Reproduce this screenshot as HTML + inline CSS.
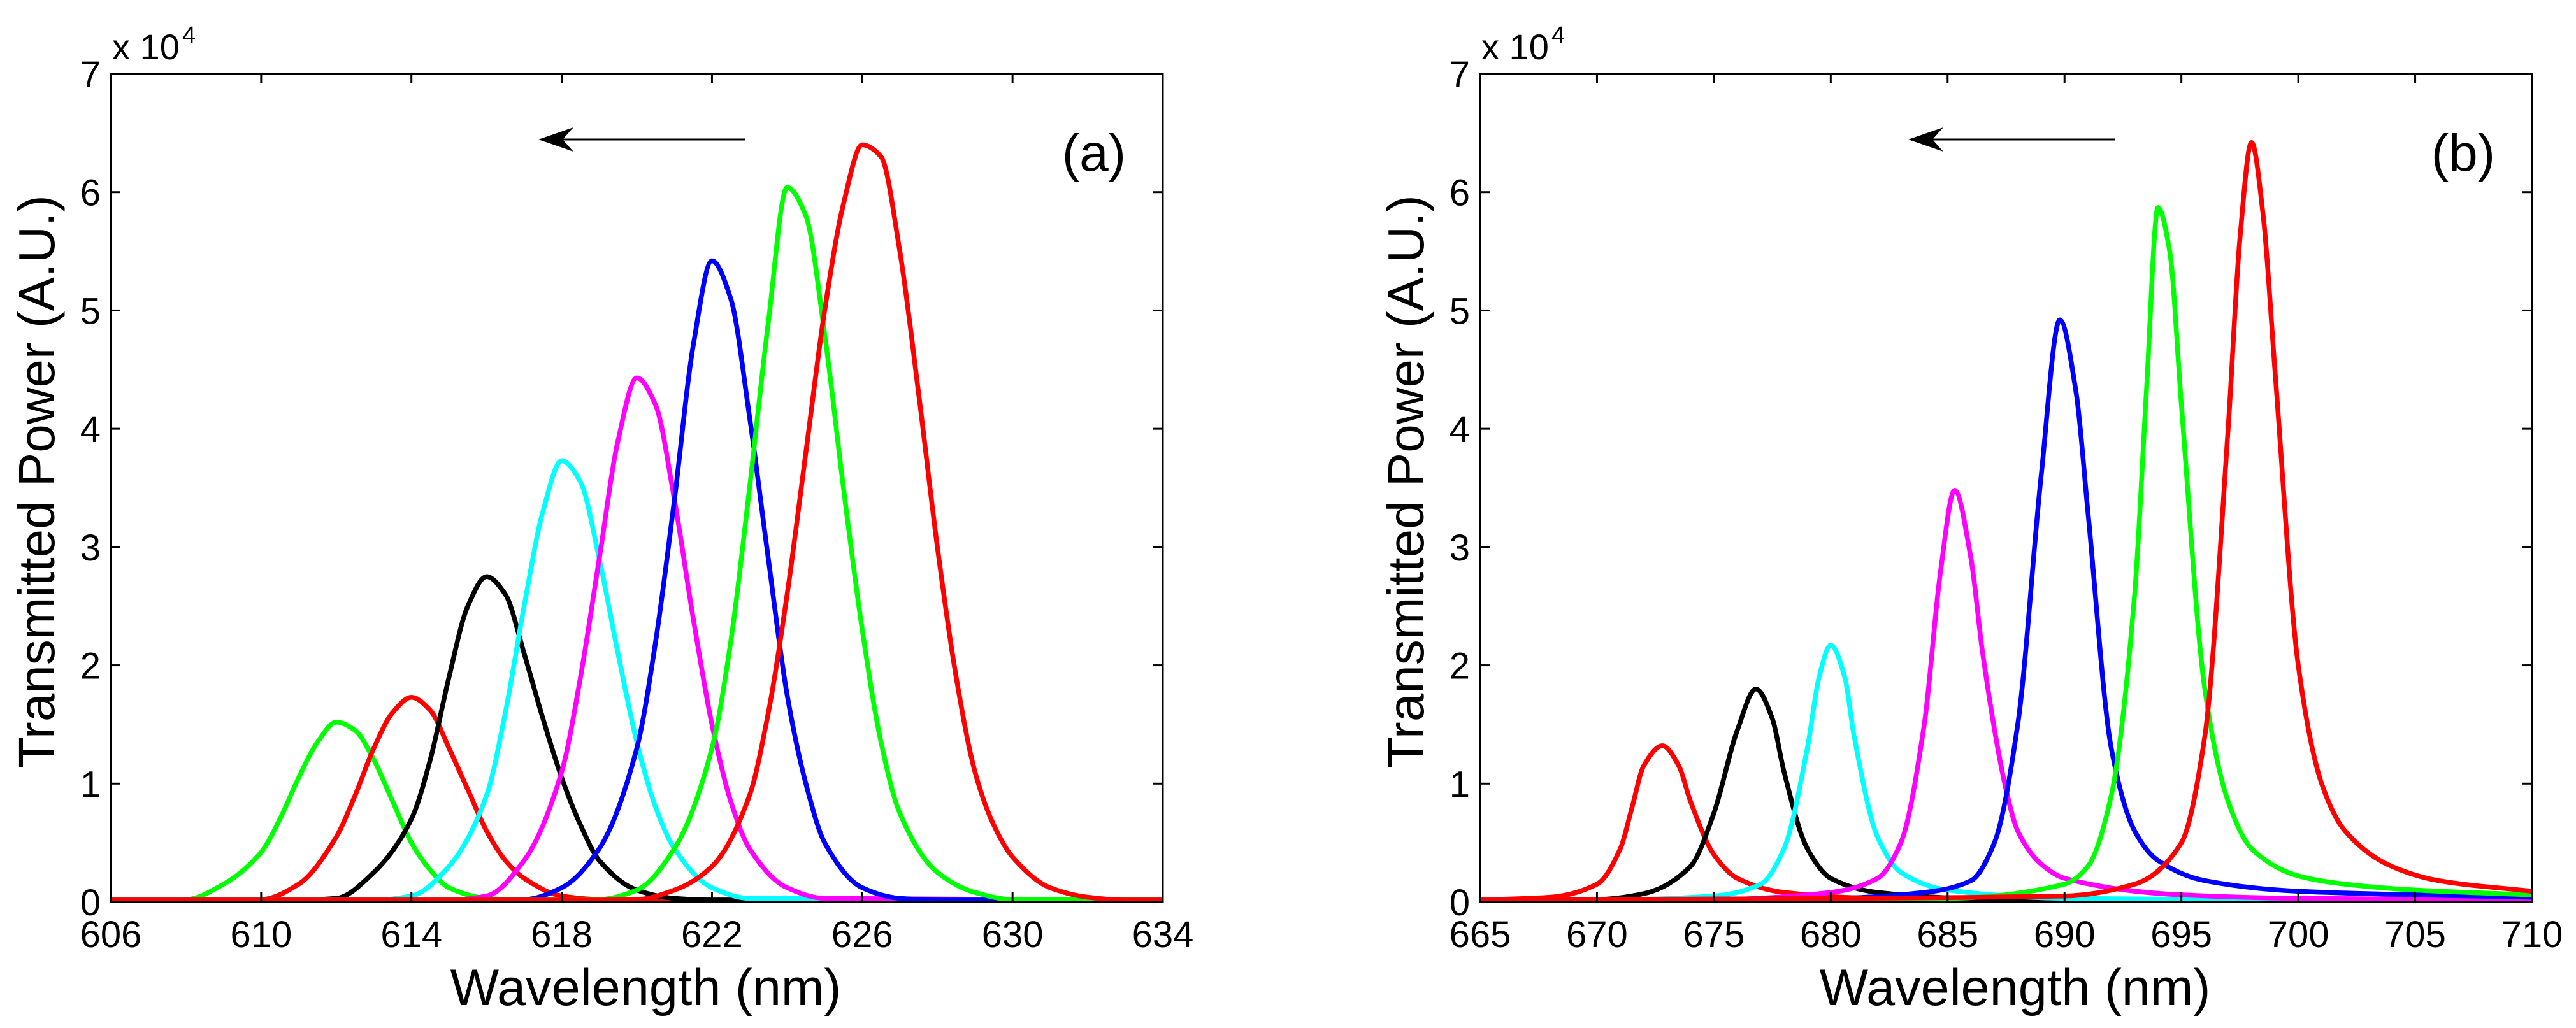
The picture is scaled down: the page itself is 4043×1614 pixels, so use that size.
<!DOCTYPE html>
<html><head><meta charset="utf-8"><style>
html,body{margin:0;padding:0;background:#fff;}
svg{display:block;font-family:"Liberation Sans",Arial,sans-serif;}
</style></head><body>
<svg id="fig" width="4043" height="1614" viewBox="0 0 4043 1614" xmlns="http://www.w3.org/2000/svg">
<rect width="4043" height="1614" fill="#fff"/>
<g id="panelA"></g>
<g id="panelB"></g>
</svg>
<script>
// ---- Panel (a) data ----
const aXTicks = [606,610,614,618,622,626,630,634];
const aYTicks = [0,1,2,3,4,5,6,7];
const aColors = ['#00ff00','#ff0000','#000000','#00ffff','#ff00ff','#0000ff','#00ff00','#ff0000'];
const aNames = ['green-612','red-614','black-616','cyan-618','magenta-620','blue-622','green-624','red-626'];
const aX0 = [606,607,608,609,610,610.5,611,611.5,612,612.5,613,613.5,614,614.5,615,616,617,620,634];
const aY0 = [0,0,0.02,0.15,0.42,0.7,1.05,1.35,1.52,1.45,1.2,0.85,0.5,0.27,0.12,0.03,0,0,0];
const aX1 = [606,609,610,611,612,612.5,613,613.5,614,614.5,615,615.5,616,616.5,617,618,619,620,622,634];
const aY1 = [0,0,0.02,0.15,0.55,0.9,1.3,1.6,1.73,1.62,1.3,0.95,0.6,0.35,0.2,0.05,0.02,0.01,0,0];
const aX2 = [606,611,612,613,614,614.5,615,615.5,616,616.5,617,617.5,618,618.5,619,620,621,622,634];
const aY2 = [0,0,0.03,0.25,0.7,1.2,1.9,2.5,2.75,2.6,2.1,1.55,1.05,0.65,0.35,0.1,0.03,0.01,0];
const aX3 = [606,613,614,615,616,616.5,617,617.5,618,618.5,619,619.5,620,620.5,621,622,623,634];
const aY3 = [0,0,0.05,0.3,0.9,1.6,2.5,3.3,3.73,3.55,2.9,2.1,1.35,0.8,0.45,0.12,0.03,0];
const aX4 = [606,615,616,617,618,618.5,619,619.5,620,620.5,621,621.5,622,622.5,623,624,625,634];
const aY4 = [0,0,0.05,0.35,1.1,1.9,2.9,3.9,4.43,4.2,3.4,2.4,1.5,0.85,0.45,0.12,0.03,0];
const aX5 = [606,616,617,618,619,620,620.5,621,621.5,622,622.5,623,623.5,624,624.5,625,626,627,628,634];
const aY5 = [0,0,0.02,0.12,0.45,1.3,2.2,3.4,4.7,5.42,5.1,4.1,2.9,1.75,1.0,0.5,0.12,0.03,0.01,0];
const aX6 = [606,618,619,620,621,622,622.5,623,623.5,624,624.5,625,625.5,626,626.5,627,628,629,630,634];
const aY6 = [0,0,0.02,0.1,0.45,1.3,2.2,3.5,4.9,6.04,5.8,4.8,3.5,2.3,1.35,0.75,0.25,0.08,0.02,0];
const aX7 = [606,619,620,621,622,623,623.5,624,624.5,625,625.5,626,626.5,627,627.5,628,628.5,629,629.5,630,631,632,633,634];
const aY7 = [0,0,0.02,0.1,0.3,0.9,1.6,2.6,3.8,5.0,5.9,6.4,6.3,5.5,4.3,3.0,1.9,1.1,0.65,0.38,0.12,0.04,0.01,0];
// ---- Panel (b) data ----
const bXTicks = [665,670,675,680,685,690,695,700,705,710];
const bYTicks = [0,1,2,3,4,5,6,7];
const bColors = ['#ff0000','#000000','#00ffff','#ff00ff','#0000ff','#00ff00','#ff0000'];
const bNames = ['red-673','black-677','cyan-680','magenta-685','blue-690','green-694','red-698'];
const bX0 = [665,668,670,671,671.5,672,672.8,673.5,674,675,676,678,682,690,710];
const bY0 = [0.01,0.04,0.15,0.45,0.8,1.15,1.32,1.15,0.85,0.4,0.2,0.08,0.03,0.015,0.01];
const bX1 = [665,670,672,674,675,676,676.8,677.5,678,679,680,682,686,695,710];
const bY1 = [0,0.02,0.07,0.3,0.75,1.45,1.8,1.55,1.1,0.45,0.2,0.08,0.03,0.01,0];
const bX2 = [665,670,675,677,678,679,679.5,680,680.6,681,682,683,685,690,700,710];
const bY2 = [0,0.01,0.05,0.15,0.45,1.3,1.9,2.17,1.9,1.4,0.55,0.25,0.1,0.03,0.01,0];
const bX3 = [665,675,680,682,683,684,684.7,685.3,686,686.5,687.5,688,689,690,695,700,710];
const bY3 = [0,0.02,0.08,0.2,0.5,1.5,2.8,3.48,2.9,2.1,0.95,0.6,0.32,0.2,0.06,0.03,0.02];
const bX4 = [665,680,684,686,687,688,689,689.8,690.5,691,692,693,694,696,700,705,710];
const bY4 = [0,0.03,0.08,0.18,0.5,1.5,3.6,4.92,4.3,3.3,1.3,0.6,0.35,0.18,0.09,0.06,0.04];
const bX5 = [665,685,690,691,692,693,693.5,694,694.5,695,696,697,698,700,702,705,710];
const bY5 = [0,0.03,0.15,0.3,0.9,2.6,4.3,5.87,5.5,4.2,1.8,0.85,0.45,0.22,0.15,0.1,0.06];
const bX6 = [665,690,693,695,696,697,697.5,698,698.5,699,700,701,702,704,706,710];
const bY6 = [0.01,0.05,0.15,0.5,1.4,4.0,5.6,6.42,5.8,4.5,2.0,1.0,0.6,0.3,0.18,0.09];

const aXs=[aX0,aX1,aX2,aX3,aX4,aX5,aX6,aX7], aYs=[aY0,aY1,aY2,aY3,aY4,aY5,aY6,aY7];
const bXs=[bX0,bX1,bX2,bX3,bX4,bX5,bX6], bYs=[bY0,bY1,bY2,bY3,bY4,bY5,bY6];

const NS='http://www.w3.org/2000/svg';
function mk(tag, attrs, parent){const e=document.createElementNS(NS,tag);for(const k in attrs)e.setAttribute(k,attrs[k]);parent.appendChild(e);return e;}

// monotone cubic (Fritsch-Carlson) path in pixel space
function smoothPath(pts){
  const n=pts.length, d=[], m=new Array(n);
  for(let i=0;i<n-1;i++){d.push((pts[i+1][1]-pts[i][1])/(pts[i+1][0]-pts[i][0]));}
  m[0]=d[0]; m[n-1]=d[n-2];
  for(let i=1;i<n-1;i++){
    if(d[i-1]*d[i]<=0) m[i]=0;
    else { const h0=pts[i][0]-pts[i-1][0], h1=pts[i+1][0]-pts[i][0];
      const w1=2*h1+h0, w2=h1+2*h0; m[i]=(w1+w2)/(w1/d[i-1]+w2/d[i]); }
  }
  let s='M'+pts[0][0].toFixed(1)+','+pts[0][1].toFixed(1);
  for(let i=0;i<n-1;i++){
    const h=(pts[i+1][0]-pts[i][0])/3;
    s+=' C'+(pts[i][0]+h).toFixed(1)+','+(pts[i][1]+m[i]*h).toFixed(1)+' '+(pts[i+1][0]-h).toFixed(1)+','+(pts[i+1][1]-m[i+1]*h).toFixed(1)+' '+pts[i+1][0].toFixed(1)+','+pts[i+1][1].toFixed(1);
  }
  return s;
}

function drawPanel(g, L, xTicks, yTicks, xsArr, ysArr, colors, names, label, arrowX1, arrowX2){
  const T=116,B=1416,R=L+1651;
  const xmin=xTicks[0],xmax=xTicks[xTicks.length-1];
  const ymax=yTicks[yTicks.length-1];
  const sx=v=>L+(v-xmin)/(xmax-xmin)*(R-L);
  const sy=v=>B-v/ymax*(B-T);
  const cg=mk('g',{},g);
  
  
  for(let s=0;s<xsArr.length;s++){
    const pts=xsArr[s].map((x,i)=>[sx(x),Math.min(B-3,sy(ysArr[s][i]))]);
    const p=mk('path',{d:smoothPath(pts),fill:'none',stroke:colors[s],'stroke-width':7.5,'stroke-linejoin':'round'},cg);
    
    
  }
  const box=mk('rect',{x:L,y:T,width:R-L,height:B-T,fill:'none',stroke:'#000','stroke-width':3},g);
  
  
  xTicks.forEach(v=>{
    const x=sx(v);
    mk('line',{x1:x,y1:B,x2:x,y2:B-15,stroke:'#000','stroke-width':3},g);
    mk('line',{x1:x,y1:T,x2:x,y2:T+15,stroke:'#000','stroke-width':3},g);
    const t=mk('text',{x:x,y:1487,'font-size':58,'text-anchor':'middle',fill:'#000'},g);
    t.textContent=v;
    
    
  });
  yTicks.forEach(v=>{
    const y=sy(v);
    mk('line',{x1:L,y1:y,x2:L+15,y2:y,stroke:'#000','stroke-width':3},g);
    mk('line',{x1:R,y1:y,x2:R-15,y2:y,stroke:'#000','stroke-width':3},g);
    const t=mk('text',{x:L-16,y:y+21,'font-size':58,'text-anchor':'end',fill:'#000'},g);
    t.textContent=v;
    
    
  });
  const ex=mk('text',{x:L+2,y:93,'font-size':56,fill:'#000'},g);
  ex.textContent='x 10';
  
  
  const sup=mk('text',{x:L+112,y:68,'font-size':38,fill:'#000'},g);
  sup.textContent='4';
  
  
  const xl=mk('text',{x:(L+R)/2+14,y:1578,'font-size':81,'text-anchor':'middle',fill:'#000'},g);
  xl.textContent='Wavelength (nm)';
  
  
  const yl=mk('text',{x:0,y:0,'font-size':80,'text-anchor':'middle',fill:'#000',transform:'translate('+(L-89)+','+((T+B)/2-10)+') rotate(-90)'},g);
  yl.textContent='Transmitted Power (A.U.)';
  
  
  const pl=mk('text',{x:R-58,y:268,'font-size':82,'text-anchor':'end',fill:'#000'},g);
  pl.textContent=label;
  
  
  const ag=mk('g',{},g);
  
  
  mk('line',{x1:arrowX1+20,y1:219,x2:arrowX2,y2:219,stroke:'#000','stroke-width':3},ag);
  mk('path',{d:'M'+arrowX1+',219 L'+(arrowX1+55)+',200 L'+(arrowX1+38)+',219 L'+(arrowX1+55)+',238 Z',fill:'#000'},ag);
}
drawPanel(document.getElementById('panelA'),174,aXTicks,aYTicks,aXs,aYs,aColors,aNames,'(a)',845,1170);
drawPanel(document.getElementById('panelB'),2323,bXTicks,bYTicks,bXs,bYs,bColors,bNames,'(b)',2995,3320);
</script>
</body></html>
